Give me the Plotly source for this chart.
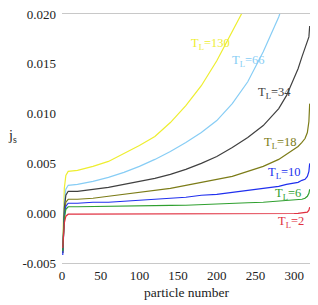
import plotly.graph_objects as go

PARTICLE = [1, 2, 3, 5, 8, 20, 40, 60, 80, 100, 120, 140, 160, 180, 200, 220,
            240, 260, 280, 290, 300, 305, 310, 314, 317, 319, 320]

J_T130 = [-0.0030, 0.0000, 0.0025, 0.0038, 0.0042, 0.0043, 0.0047, 0.0052, 0.0060, 0.0068,
          0.0077, 0.0091, 0.0108, 0.0128, 0.0153, 0.0182, 0.0212, 0.0250, None, None,
          None, None, None, None, None, None, None]
J_T66 = [-0.0035, -0.0010, 0.0010, 0.0024, 0.0028, 0.0029, 0.0032, 0.0036, 0.0041, 0.0047,
         0.0054, 0.0062, 0.0071, 0.0081, 0.0093, 0.0110, 0.0132, 0.0162, 0.0197, 0.0220,
         None, None, None, None, None, None, None]
J_T34 = [-0.0040, -0.0015, 0.0005, 0.0018, 0.0022, 0.0022, 0.0024, 0.0026, 0.0029, 0.0032,
         0.0035, 0.0039, 0.0044, 0.0050, 0.0057, 0.0066, 0.0076, 0.0088, 0.0105, 0.0118,
         0.0135, 0.0145, 0.0157, 0.0165, 0.0171, 0.0177, 0.0188]
J_T18 = [-0.0040, -0.0015, 0.0000, 0.0011, 0.0014, 0.0014, 0.0015, 0.0017, 0.0019, 0.0021,
         0.0023, 0.0025, 0.0028, 0.0031, 0.0034, 0.0037, 0.0042, 0.0047, 0.0054, 0.0059,
         0.0064, 0.0067, 0.0071, 0.0075, 0.0081, 0.0092, 0.0110]
J_T10 = [-0.0042, -0.0020, -0.0003, 0.0007, 0.0010, 0.0010, 0.0011, 0.0011, 0.0012, 0.0013,
         0.0014, 0.0015, 0.0016, 0.0018, 0.0019, 0.0021, 0.0023, 0.0025, 0.0027, 0.0029,
         0.0030, 0.0031, 0.0033, 0.0034, 0.0037, 0.0042, 0.0050]
J_T6 = [-0.0038, -0.0020, -0.0005, 0.0004, 0.00065, 0.00065, 0.00066, 0.00068, 0.0007, 0.0007,
        0.00074, 0.00078, 0.0008, 0.00088, 0.00095, 0.0010, 0.00105, 0.0011, 0.0012, 0.00125,
        0.0013, 0.00135, 0.0014, 0.0015, 0.0017, 0.0020, 0.0024]
J_T2 = [-0.0035, -0.0022, -0.0010, -0.0003, -0.0001, -0.0001, -0.0001, -0.0001, -0.0001, -0.0001,
        -0.0001, -0.0001, -0.0001, -0.00008, -0.00008, -0.00006, -0.00006, -0.00005, -0.00005, -0.00004,
        -0.00003, -0.00002, 0.0000, 0.00005, 0.0001, 0.0003, 0.0006]

SERIES = [("130", J_T130, "#eeee30"), ("66", J_T66, "#87cdf5"), ("34", J_T34, "#404040"),
          ("18", J_T18, "#7c7c18"), ("10", J_T10, "#2030ee"), ("6", J_T6, "#30a030"),
          ("2", J_T2, "#e03040")]

# label anchor positions (data coords: particle number, j_s)
LABEL_X = [164, 217, 250, 258, 264, 273, 276]
LABEL_Y = [0.0170, 0.0153, 0.0121, 0.0070, 0.0040, 0.0019, -0.0009]

TICK_Y = [-0.005, 0.0, 0.005, 0.010, 0.015, 0.020]
TICK_Y_TEXT = ["-0.005", "0.000", "0.005", "0.010", "0.015", "0.020"]
TICK_X = [0, 50, 100, 150, 200, 250, 300]

FONT = "Liberation Serif"

fig = go.Figure()
for (t, ys, col) in SERIES:
    fig.add_trace(go.Scatter(x=PARTICLE, y=ys, mode="lines",
                             line=dict(color=col, width=1.2), showlegend=False,
                             connectgaps=False))

for (t, ys, col), lx, ly in zip(SERIES, LABEL_X, LABEL_Y):
    fig.add_annotation(x=lx, y=ly, xref="x", yref="y", xanchor="left", yanchor="middle",
                       text="T<sub>L</sub>=" + t, showarrow=False,
                       font=dict(family=FONT, size=12.5, color=col))

fig.add_annotation(x=-0.2, y=0.51, xref="paper", yref="paper", xanchor="center",
                   yanchor="middle", text="j<sub>s</sub>", showarrow=False,
                   font=dict(family=FONT, size=14, color="#222"))
fig.add_annotation(x=0.5, y=-0.118, xref="paper", yref="paper", xanchor="center",
                   yanchor="middle", text="particle number", showarrow=False,
                   font=dict(family=FONT, size=13.5, color="#222"))

# page body has an 8px default margin, so the figure is made 8px smaller
fig.update_layout(
    width=310, height=297,
    margin=dict(l=54, r=6, t=6, b=42, autoexpand=False),
    plot_bgcolor="white", paper_bgcolor="white",
    font=dict(family=FONT, size=13, color="#222"),
    xaxis=dict(range=[0, 323], tickvals=TICK_X, showgrid=False, zeroline=False,
               showline=True, linecolor="#c8c8c8", linewidth=1, mirror=True,
               ticks="", automargin=False, tickfont=dict(family=FONT, size=13)),
    yaxis=dict(range=[-0.005, 0.020], tickvals=TICK_Y, ticktext=TICK_Y_TEXT,
               showgrid=False, zeroline=False, showline=False, ticks="",
               automargin=False, ticklabelstandoff=5, ticklabeloverflow="allow",
               tickfont=dict(family=FONT, size=13)),
)

fig.write_html("out.html")
